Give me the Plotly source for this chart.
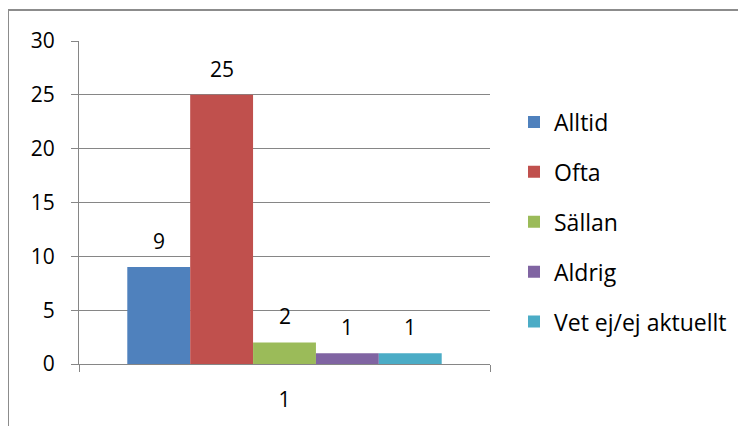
import plotly.graph_objects as go

# data
categories = ["1"]
series_names = ["Alltid", "Ofta", "Sällan", "Aldrig", "Vet ej/ej aktuellt"]
series_values = [9, 25, 2, 1, 1]
series_colors = ["#4F81BD", "#C0504D", "#9BBB59", "#8064A2", "#4BACC6"]
y_ticks = [0, 5, 10, 15, 20, 25, 30]

# page body has an 8px margin, so work in screen pixels and shift
OFF = 8
W, H = 746 - OFF, 426 - OFF
L, R, T, B = 79 - OFF, 256, 41 - OFF, 62
pw, ph = W - L - R, H - T - B
BARGAP = 0.235
bar_px = pw * (1 - BARGAP) / len(series_names)


def px_x(x):
    return (x - OFF - L) / pw


def px_y(y):
    return (H - B - (y - OFF)) / ph


FONT = "'Open Sans', Lato, sans-serif"

fig = go.Figure()
for name, val, col in zip(series_names, series_values, series_colors):
    fig.add_trace(go.Bar(
        name=name,
        x=categories,
        y=[val],
        marker_color=col,
        marker_line_width=0,
        legendgroup=name,
    ))

# data labels, sitting well above each bar like in Excel
# (annotations on a category axis take the category's index)
n = len(series_names)
cat_idx = categories.index(categories[0])
for i, val in enumerate(series_values):
    fig.add_annotation(
        x=cat_idx, y=val, text=str(val), showarrow=False,
        xshift=(i - (n - 1) / 2) * bar_px, yshift=26,
        yanchor="middle", font=dict(size=21, color="#000000"),
    )

# outer chart border (only top and left visible in the crop)
grey = "#8C8C8C"
fig.add_shape(type="line", xref="paper", yref="paper",
              x0=px_x(8), x1=px_x(770), y0=px_y(10), y1=px_y(10),
              line=dict(color=grey, width=2))
fig.add_shape(type="line", xref="paper", yref="paper",
              x0=px_x(8), x1=px_x(8), y0=px_y(10), y1=px_y(450),
              line=dict(color=grey, width=2))

fig.update_layout(
    width=W, height=H,
    margin=dict(l=L, r=R, t=T, b=B),
    paper_bgcolor="white",
    plot_bgcolor="white",
    font=dict(family=FONT, size=21, color="#000000"),
    barmode="group",
    bargap=BARGAP,
    bargroupgap=0,
    showlegend=True,
    legend=dict(
        x=px_x(514), y=px_y(222), xanchor="left", yanchor="middle",
        traceorder="grouped", tracegroupgap=17,
        font=dict(size=23),
        itemwidth=30,
    ),
    xaxis=dict(
        type="category",
        showline=True, linecolor="#868686", linewidth=1,
        ticks="outside", tickson="boundaries", ticklen=7, tickcolor="#868686",
        showgrid=False,
        tickfont=dict(size=21),
        ticklabelstandoff=17,
    ),
    yaxis=dict(
        range=[0, 30],
        tickvals=y_ticks,
        showline=True, linecolor="#868686", linewidth=1,
        ticks="outside", ticklen=7, tickcolor="#868686",
        showgrid=True, gridcolor="#868686", gridwidth=1,
        zeroline=False,
        tickfont=dict(size=21),
        ticklabelstandoff=12,
    ),
)

fig.write_html("out.html")
